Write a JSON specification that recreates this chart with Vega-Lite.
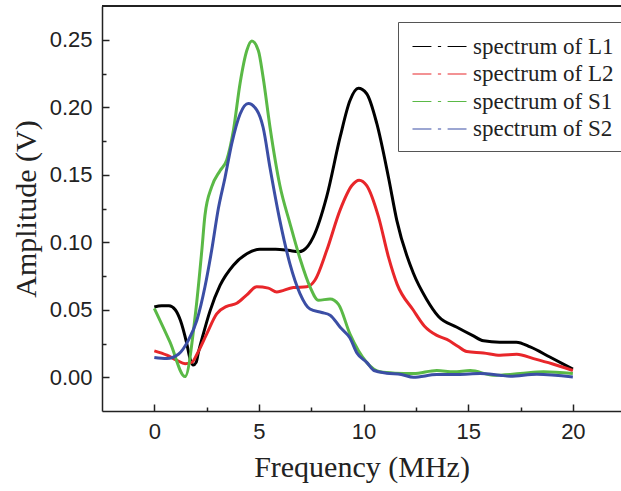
{
  "$schema": "https://vega.github.io/schema/vega-lite/v6.json",
  "width": 519,
  "height": 405,
  "autosize": "none",
  "padding": {"left": 102, "top": 6, "right": 0, "bottom": 80},
  "background": "white",
  "config": {"view": {"stroke": null}},
  "data": {"values": [
    {"s":"spectrum of L1","f":0,"a":0.052},{"s":"spectrum of L1","f":0.35,"a":0.053},{"s":"spectrum of L1","f":0.7,"a":0.053},{"s":"spectrum of L1","f":1.0,"a":0.05},{"s":"spectrum of L1","f":1.25,"a":0.042},{"s":"spectrum of L1","f":1.55,"a":0.025},{"s":"spectrum of L1","f":1.72,"a":0.013},{"s":"spectrum of L1","f":1.86,"a":0.009},{"s":"spectrum of L1","f":2.0,"a":0.011},{"s":"spectrum of L1","f":2.1,"a":0.018},{"s":"spectrum of L1","f":2.34,"a":0.032},{"s":"spectrum of L1","f":2.66,"a":0.049},{"s":"spectrum of L1","f":3.14,"a":0.068},{"s":"spectrum of L1","f":3.78,"a":0.083},{"s":"spectrum of L1","f":4.42,"a":0.0915},{"s":"spectrum of L1","f":5.05,"a":0.0948},{"s":"spectrum of L1","f":5.8,"a":0.0948},{"s":"spectrum of L1","f":6.4,"a":0.094},{"s":"spectrum of L1","f":6.9,"a":0.093},{"s":"spectrum of L1","f":7.12,"a":0.094},{"s":"spectrum of L1","f":7.6,"a":0.104},{"s":"spectrum of L1","f":8.24,"a":0.134},{"s":"spectrum of L1","f":8.88,"a":0.178},{"s":"spectrum of L1","f":9.35,"a":0.205},{"s":"spectrum of L1","f":9.75,"a":0.214},{"s":"spectrum of L1","f":10.15,"a":0.21},{"s":"spectrum of L1","f":10.63,"a":0.188},{"s":"spectrum of L1","f":11.19,"a":0.148},{"s":"spectrum of L1","f":11.59,"a":0.116},{"s":"spectrum of L1","f":12.38,"a":0.077},{"s":"spectrum of L1","f":13.0,"a":0.058},{"s":"spectrum of L1","f":13.58,"a":0.045},{"s":"spectrum of L1","f":14.46,"a":0.037},{"s":"spectrum of L1","f":15.2,"a":0.031},{"s":"spectrum of L1","f":15.73,"a":0.027},{"s":"spectrum of L1","f":16.5,"a":0.026},{"s":"spectrum of L1","f":17.3,"a":0.026},{"s":"spectrum of L1","f":17.96,"a":0.0225},{"s":"spectrum of L1","f":18.9,"a":0.015},{"s":"spectrum of L1","f":20,"a":0.006},
    {"s":"spectrum of L2","f":0,"a":0.0195},{"s":"spectrum of L2","f":0.6,"a":0.0163},{"s":"spectrum of L2","f":1.07,"a":0.0126},{"s":"spectrum of L2","f":1.47,"a":0.01},{"s":"spectrum of L2","f":1.79,"a":0.011},{"s":"spectrum of L2","f":2.1,"a":0.019},{"s":"spectrum of L2","f":2.5,"a":0.032},{"s":"spectrum of L2","f":2.98,"a":0.047},{"s":"spectrum of L2","f":3.46,"a":0.0525},{"s":"spectrum of L2","f":3.94,"a":0.0548},{"s":"spectrum of L2","f":4.42,"a":0.061},{"s":"spectrum of L2","f":4.89,"a":0.067},{"s":"spectrum of L2","f":5.45,"a":0.066},{"s":"spectrum of L2","f":5.85,"a":0.0632},{"s":"spectrum of L2","f":6.64,"a":0.0665},{"s":"spectrum of L2","f":7.28,"a":0.067},{"s":"spectrum of L2","f":7.68,"a":0.072},{"s":"spectrum of L2","f":8.24,"a":0.094},{"s":"spectrum of L2","f":8.88,"a":0.124},{"s":"spectrum of L2","f":9.44,"a":0.142},{"s":"spectrum of L2","f":9.79,"a":0.146},{"s":"spectrum of L2","f":10.15,"a":0.142},{"s":"spectrum of L2","f":10.71,"a":0.119},{"s":"spectrum of L2","f":11.19,"a":0.089},{"s":"spectrum of L2","f":11.6,"a":0.069},{"s":"spectrum of L2","f":12.38,"a":0.0496},{"s":"spectrum of L2","f":12.9,"a":0.038},{"s":"spectrum of L2","f":13.5,"a":0.031},{"s":"spectrum of L2","f":13.98,"a":0.028},{"s":"spectrum of L2","f":14.5,"a":0.023},{"s":"spectrum of L2","f":14.93,"a":0.019},{"s":"spectrum of L2","f":15.73,"a":0.018},{"s":"spectrum of L2","f":16.52,"a":0.0163},{"s":"spectrum of L2","f":17.32,"a":0.017},{"s":"spectrum of L2","f":18.12,"a":0.0138},{"s":"spectrum of L2","f":19.0,"a":0.01},{"s":"spectrum of L2","f":20,"a":0.005},
    {"s":"spectrum of S1","f":0,"a":0.051},{"s":"spectrum of S1","f":0.75,"a":0.026},{"s":"spectrum of S1","f":1.47,"a":0.0005},{"s":"spectrum of S1","f":1.95,"a":0.045},{"s":"spectrum of S1","f":2.27,"a":0.094},{"s":"spectrum of S1","f":2.42,"a":0.12},{"s":"spectrum of S1","f":2.74,"a":0.141},{"s":"spectrum of S1","f":3.14,"a":0.153},{"s":"spectrum of S1","f":3.46,"a":0.161},{"s":"spectrum of S1","f":3.78,"a":0.183},{"s":"spectrum of S1","f":4.1,"a":0.218},{"s":"spectrum of S1","f":4.42,"a":0.242},{"s":"spectrum of S1","f":4.66,"a":0.249},{"s":"spectrum of S1","f":4.97,"a":0.242},{"s":"spectrum of S1","f":5.2,"a":0.222},{"s":"spectrum of S1","f":5.53,"a":0.185},{"s":"spectrum of S1","f":6.0,"a":0.142},{"s":"spectrum of S1","f":6.48,"a":0.114},{"s":"spectrum of S1","f":6.96,"a":0.088},{"s":"spectrum of S1","f":7.44,"a":0.067},{"s":"spectrum of S1","f":7.84,"a":0.057},{"s":"spectrum of S1","f":8.4,"a":0.058},{"s":"spectrum of S1","f":8.8,"a":0.054},{"s":"spectrum of S1","f":9.35,"a":0.032},{"s":"spectrum of S1","f":10.15,"a":0.011},{"s":"spectrum of S1","f":10.79,"a":0.004},{"s":"spectrum of S1","f":11.5,"a":0.003},{"s":"spectrum of S1","f":12.38,"a":0.0027},{"s":"spectrum of S1","f":13.5,"a":0.005},{"s":"spectrum of S1","f":14.3,"a":0.004},{"s":"spectrum of S1","f":15.1,"a":0.005},{"s":"spectrum of S1","f":16.2,"a":0.0015},{"s":"spectrum of S1","f":17.48,"a":0.0027},{"s":"spectrum of S1","f":18.6,"a":0.004},{"s":"spectrum of S1","f":20,"a":0.0027},
    {"s":"spectrum of S2","f":0,"a":0.0146},{"s":"spectrum of S2","f":0.59,"a":0.0138},{"s":"spectrum of S2","f":1.15,"a":0.017},{"s":"spectrum of S2","f":1.63,"a":0.0275},{"s":"spectrum of S2","f":2.03,"a":0.042},{"s":"spectrum of S2","f":2.42,"a":0.067},{"s":"spectrum of S2","f":2.74,"a":0.094},{"s":"spectrum of S2","f":3.06,"a":0.125},{"s":"spectrum of S2","f":3.38,"a":0.148},{"s":"spectrum of S2","f":3.7,"a":0.173},{"s":"spectrum of S2","f":4.1,"a":0.195},{"s":"spectrum of S2","f":4.49,"a":0.2027},{"s":"spectrum of S2","f":4.89,"a":0.198},{"s":"spectrum of S2","f":5.2,"a":0.185},{"s":"spectrum of S2","f":5.53,"a":0.155},{"s":"spectrum of S2","f":6.0,"a":0.116},{"s":"spectrum of S2","f":6.48,"a":0.084},{"s":"spectrum of S2","f":6.96,"a":0.062},{"s":"spectrum of S2","f":7.44,"a":0.0505},{"s":"spectrum of S2","f":8.0,"a":0.048},{"s":"spectrum of S2","f":8.4,"a":0.046},{"s":"spectrum of S2","f":8.88,"a":0.037},{"s":"spectrum of S2","f":9.35,"a":0.029},{"s":"spectrum of S2","f":9.68,"a":0.018},{"s":"spectrum of S2","f":10.15,"a":0.011},{"s":"spectrum of S2","f":10.5,"a":0.005},{"s":"spectrum of S2","f":11.1,"a":0.003},{"s":"spectrum of S2","f":11.8,"a":0.002},{"s":"spectrum of S2","f":12.38,"a":0.0},{"s":"spectrum of S2","f":13.5,"a":0.002},{"s":"spectrum of S2","f":14.5,"a":0.002},{"s":"spectrum of S2","f":15.57,"a":0.0027},{"s":"spectrum of S2","f":16.5,"a":0.0015},{"s":"spectrum of S2","f":17.0,"a":0.0008},{"s":"spectrum of S2","f":18.28,"a":0.0022},{"s":"spectrum of S2","f":20,"a":0.0002}
  ]},
  "layer": [
    {
      "mark": {"type": "line", "interpolate": "monotone", "strokeWidth": 3},
      "encoding": {
        "x": {"field": "f", "type": "quantitative", "title": "Frequency (MHz)",
          "scale": {"domain": [-2.5, 22.3], "nice": false, "zero": false},
          "axis": {"values": [0, 2.5, 5, 7.5, 10, 12.5, 15, 17.5, 20], "grid": false,
            "labelExpr": "datum.value % 5 === 0 ? datum.label : ''",
            "tickSize": {"condition": {"test": "datum.value % 5 === 0", "value": -7}, "value": -4},
            "labelPadding": 17, "labelFont": "Liberation Sans", "labelFontSize": 22, "labelColor": "#222",
            "domainColor": "#222", "domainWidth": 1.5, "tickColor": "#222", "tickWidth": 1.5,
            "titleFont": "Liberation Serif", "titleFontSize": 30, "titleFontWeight": "normal", "titleColor": "#222", "titlePadding": 10}},
        "y": {"field": "a", "type": "quantitative", "title": "Amplitude (V)",
          "scale": {"domain": [-0.025, 0.275], "nice": false, "zero": false},
          "axis": {"values": [0, 0.025, 0.05, 0.075, 0.1, 0.125, 0.15, 0.175, 0.2, 0.225, 0.25], "grid": false,
            "labelExpr": "abs(datum.value*20 - round(datum.value*20)) < 0.000001 ? format(datum.value, '.2f') : ''",
            "tickSize": {"condition": {"test": "abs(datum.value*20 - round(datum.value*20)) < 0.000001", "value": -7}, "value": -4},
            "labelPadding": 17, "labelFont": "Liberation Sans", "labelFontSize": 22, "labelColor": "#222",
            "domainColor": "#222", "domainWidth": 1.5, "tickColor": "#222", "tickWidth": 1.5,
            "titleFont": "Liberation Serif", "titleFontSize": 30, "titleFontWeight": "normal", "titleColor": "#222", "titlePadding": 8}},
        "color": {"field": "s", "type": "nominal",
          "scale": {"domain": ["spectrum of L1", "spectrum of L2", "spectrum of S1", "spectrum of S2"], "range": ["#000000", "#e8262a", "#5ab946", "#3b4ea5"]},
          "legend": {"title": null, "orient": "none", "legendX": 296, "legendY": 16, "strokeColor": "#555", "fillColor": "white", "padding": 10,
            "labelFont": "Liberation Serif", "labelFontSize": 23, "labelColor": "#222", "labelOffset": 19,
            "symbolType": "M-2,0H-0.6M-0.12,0H0.12M0.6,0H2", "symbolSize": 729, "symbolOffset": 17, "symbolStrokeWidth": 1.2, "rowPadding": 0.5}}
      }
    },
    {
      "mark": {"type": "rule", "color": "#222", "strokeWidth": 1.5},
      "encoding": {"y": {"datum": 0.275}}
    }
  ]
}
